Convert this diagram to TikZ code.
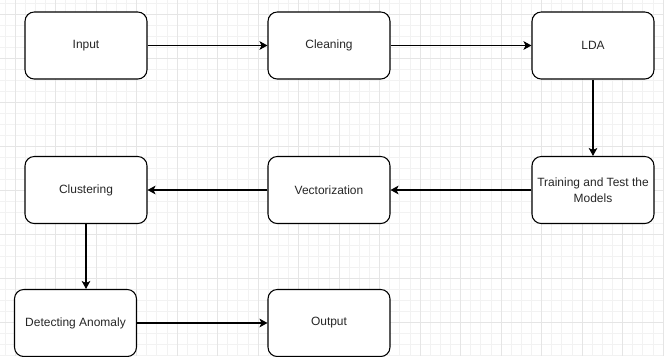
\documentclass[tikz,border=0pt]{standalone}
\usepackage{fontspec}
\setmainfont{Liberation Sans}
\usetikzlibrary{arrows.meta}

\begin{document}
\begin{tikzpicture}[x=0.0264cm, y=-0.0264cm,
		stage/.style={draw=black, line width=0.8pt, rounded corners=7pt, fill=white,
			minimum width=3.22cm, minimum height=1.77cm, inner sep=1pt, align=center,
			font=\fontsize{9}{12}\selectfont, text=black!85},
		flow/.style={line width=0.8pt, -{Stealth[length=6pt, width=6.5pt, inset=1.5pt]}}]
		%%%%% START %%%%%
		
		\useasboundingbox (0, 0) rectangle (664, 356);
		\fill[white] (0, 0) rectangle (664, 356);
		
		% background grid
		\begin{scope}
			\clip (0, 0) rectangle (664, 356);
			\foreach \i in {-1,...,66}
				\draw[line width=0.5pt, color=black!5] ({15+10.125*\i}, 0) -- ({15+10.125*\i}, 356);
			\foreach \j in {-2,...,32}
				\draw[line width=0.5pt, color=black!5] (0, {14+11*\j}) -- (664, {14+11*\j});
			\foreach \i in {0,...,16}
				\draw[line width=0.6pt, color=black!10] ({15+40.5*\i}, 0) -- ({15+40.5*\i}, 356);
			\foreach \j in {0,...,8}
				\draw[line width=0.6pt, color=black!10] (0, {14+44*\j}) -- (664, {14+44*\j});
		\end{scope}
		
		\node[stage] (input) at (86, 45.5) {Input};
		\node[stage] (clean) at (329, 45.5) {Cleaning};
		\node[stage] (lda) at (593, 45.5) {LDA};
		
		\node[stage] (train) at (593, 190) {Training and Test the\\Models};
		\node[stage] (vector) at (329, 190) {Vectorization};
		\node[stage] (cluster) at (86, 190) {Clustering};
		
		\node[stage] (detect) at (75.5, 323) {Detecting Anomaly};
		\node[stage] (output) at (329, 323) {Output};
		
		\draw[flow] (input) -- (clean);
		\draw[flow] (clean) -- (lda);
		\draw[flow] (lda) -- (train);
		\draw[flow] (train) -- (vector);
		\draw[flow] (vector) -- (cluster);
		\draw[flow] (cluster.south) -- (cluster.south |- detect.north);
		\draw[flow] (detect) -- (output);
		
		%%%%% END %%%%%
	\end{tikzpicture}
\end{document}
